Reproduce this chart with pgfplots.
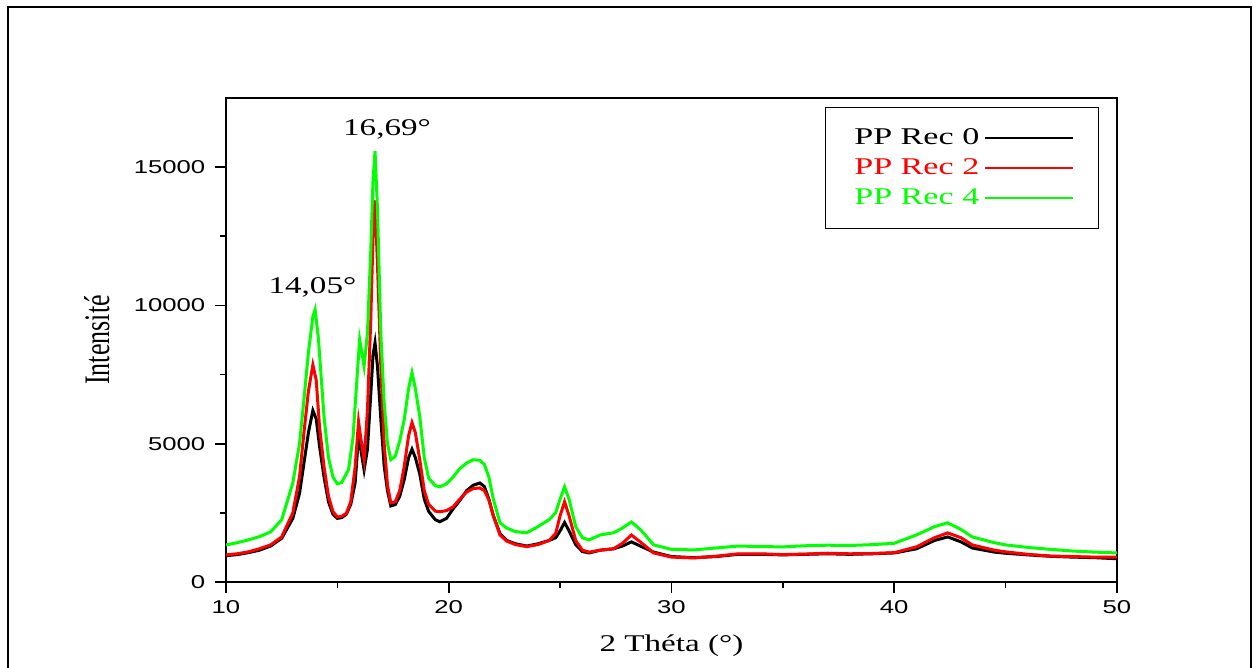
\documentclass[border=0pt]{standalone}
\usepackage{pgfplots}
\pgfplotsset{compat=1.18}
\usepackage{graphicx}
\usepackage{fontspec}
\setmainfont{Liberation Serif}
\setsansfont{Liberation Sans}

\pgfplotstableread{
x y
10 950
10.5 990
11 1060
11.5 1150
12 1300
12.5 1580
13 2300
13.3 3200
13.5 4300
13.7 5400
13.9 6200
14.05 5900
14.2 4900
14.4 3800
14.6 2900
14.8 2450
15.0 2300
15.2 2330
15.4 2450
15.6 2800
15.8 3600
15.95 5300
16.05 4800
16.2 4050
16.35 4800
16.5 6800
16.6 8200
16.69 8650
16.8 7800
16.95 5900
17.1 4200
17.25 3300
17.4 2750
17.6 2800
17.8 3100
18.0 3700
18.2 4500
18.35 4800
18.5 4500
18.7 3900
18.9 3000
19.1 2550
19.4 2250
19.6 2180
19.9 2300
20.2 2650
20.5 2950
20.8 3300
21.1 3500
21.4 3580
21.6 3450
21.8 3000
22.0 2400
22.3 1750
22.6 1500
23.0 1380
23.5 1300
24.0 1380
24.5 1500
24.8 1600
25.0 1850
25.2 2150
25.4 1850
25.7 1350
26.0 1100
26.3 1050
26.8 1150
27.4 1200
27.8 1300
28.2 1450
28.6 1300
29.2 1080
30 920
31 880
32 920
33 1000
34 1000
35 980
36 1000
37 1020
38 1000
39 1020
40 1050
41 1200
41.8 1500
42.4 1630
43 1450
43.5 1230
44.5 1080
45 1040
46 980
47 930
48 900
49 880
50 840
}\recz

\pgfplotstableread{
x y
10 980
10.5 1020
11 1090
11.5 1200
12 1340
12.5 1630
13 2500
13.3 3800
13.5 5400
13.7 6900
13.9 7850
14.05 7300
14.2 5600
14.4 4170
14.6 3100
14.8 2550
15.0 2350
15.2 2380
15.4 2480
15.6 2900
15.8 4170
15.95 5800
16.05 5200
16.2 4420
16.35 6200
16.5 9500
16.6 12500
16.69 13800
16.8 11500
16.95 7800
17.1 5000
17.25 3500
17.4 2860
17.6 2900
17.8 3300
18.0 4170
18.2 5300
18.35 5760
18.5 5400
18.7 4420
18.9 3300
19.1 2800
19.4 2560
19.6 2540
19.9 2580
20.2 2720
20.5 3000
20.8 3250
21.1 3380
21.4 3400
21.6 3300
21.8 2970
22.0 2400
22.3 1700
22.6 1480
23.0 1350
23.5 1280
24.0 1350
24.5 1500
24.8 1750
25.0 2400
25.2 2900
25.4 2400
25.7 1500
26.0 1150
26.3 1080
26.8 1150
27.4 1200
27.8 1400
28.2 1700
28.6 1450
29.2 1050
30 900
31 870
32 930
33 1020
34 1020
35 990
36 1010
37 1040
38 1020
39 1030
40 1060
41 1270
41.8 1600
42.4 1775
43 1600
43.5 1340
44.5 1150
45 1090
46 1000
47 940
48 920
49 900
50 900
}\recd

\pgfplotstableread{
x y
10 1340
10.5 1420
11 1520
11.5 1640
12 1810
12.5 2250
13 3580
13.3 5000
13.5 6600
13.7 8300
13.9 9600
14.0 9850
14.15 8800
14.4 5980
14.6 4500
14.8 3800
15.0 3550
15.2 3600
15.5 4060
15.7 5200
15.85 7000
16.0 8770
16.2 7800
16.35 9000
16.5 12000
16.6 14500
16.69 15580
16.8 13500
16.95 9000
17.1 6500
17.25 5000
17.4 4420
17.6 4550
17.8 5100
18.0 5870
18.2 7000
18.35 7570
18.5 7000
18.7 5980
18.9 4500
19.1 3750
19.4 3480
19.6 3440
19.9 3550
20.2 3800
20.5 4100
20.8 4300
21.1 4420
21.4 4400
21.6 4250
21.8 3800
22.0 3000
22.3 2140
22.6 1950
23.0 1820
23.5 1780
24.0 2000
24.5 2250
24.8 2500
25.0 3000
25.2 3440
25.4 3000
25.7 2000
26.0 1600
26.3 1520
26.8 1700
27.4 1780
27.8 1950
28.2 2170
28.6 1900
29.2 1340
30 1180
31 1160
32 1230
33 1300
34 1280
35 1270
36 1310
37 1330
38 1320
39 1350
40 1400
41 1700
41.8 2000
42.4 2140
43 1900
43.5 1630
44.5 1420
45 1340
46 1250
47 1180
48 1120
49 1080
50 1050
}\recq

\begin{document}
\begin{tikzpicture}
\useasboundingbox (0pt,0pt) rectangle (627.5pt,334pt);
\draw[line width=1pt] (4pt,-5pt) -- (4pt,330.5pt) -- (625.5pt,330.5pt) -- (625.5pt,-5pt);
\begin{axis}[
  scale only axis,
  width=445.5pt, height=242pt,
  at={(113pt,43pt)}, anchor=south west,
  xmin=10, xmax=50, ymin=0, ymax=17500,
  xtick={10,20,30,40,50}, ytick={0,5000,10000,15000},
  minor x tick num=1, minor y tick num=1,
  xtick pos=bottom, ytick pos=left,
  tick align=outside,
  major tick length=5.5pt, minor tick length=3pt,
  every tick/.style={black, line width=0.8pt},
  axis line style={line width=1.1pt},
  scaled y ticks=false,
  /pgf/number format/1000 sep={},
  /pgf/number format/assume math mode=true,
  tick label style={font=\sffamily\fontsize{9.3}{11}\selectfont, xscale=1.38},
  xlabel={2 Théta (°)},
  ylabel={Intensité},
  xlabel style={at={(axis description cs:0.5,-0.132)}, anchor=center, font=\fontsize{12}{14}\selectfont, xscale=1.38},
  ylabel style={at={(axis description cs:-0.145,0.5)}, anchor=center, font=\fontsize{13}{15}\selectfont, yscale=1.38},
  legend plot pos=right,
  legend cell align=left,
  legend image code/.code={\draw[line width=1pt] (2.5pt,0pt) -- (46.5pt,0pt);},
  legend style={at={(axis description cs:1,1)}, anchor=north east, xshift=-9pt, yshift=-4.5pt,
    draw=black, line width=0.7pt, inner xsep=12pt, inner ysep=9.25pt, row sep=3.75pt,
    font=\fontsize{12}{14}\selectfont,
    nodes={inner ysep=1pt, inner xsep=2.5pt}},
]
\addplot[black, line width=1.5pt] table[x=x,y=y] {\recz};
\addlegendentry{\scalebox{1.42}[1]{PP Rec 0}}
\addplot[red, line width=1.5pt] table[x=x,y=y] {\recd};
\addlegendentry{\scalebox{1.42}[1]{\textcolor{red}{PP Rec 2}}}
\addplot[green, line width=1.5pt] table[x=x,y=y] {\recq};
\addlegendentry{\scalebox{1.42}[1]{\textcolor{green}{PP Rec 4}}}
\node[font=\fontsize{12}{14}\selectfont, xscale=1.38] at (axis cs:17.23,16377) {16,69°};
\node[font=\fontsize{12}{14}\selectfont, xscale=1.38] at (axis cs:13.88,10652) {14,05°};
\end{axis}
\end{tikzpicture}
\end{document}
